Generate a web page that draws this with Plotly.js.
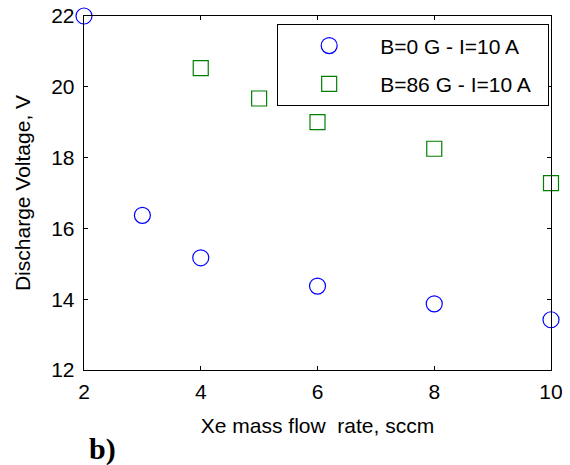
<!DOCTYPE html>
<html>
<head>
<meta charset="utf-8">
<script src="https://cdn.plot.ly/plotly-3.0.1.min.js"></script>
<style>html,body{margin:0;padding:0;background:#fff;}#chart{width:570px;height:465px;}</style>
</head>
<body>
<div id="chart"></div>
<script>
// Data
var flowB0 = [2, 3, 4, 6, 8, 10];
var voltB0 = [22.0, 16.37, 15.17, 14.37, 13.87, 13.42];
var flowB86 = [4, 5, 6, 8, 10];
var voltB86 = [20.53, 19.67, 19.0, 18.25, 17.28];
var nameB0 = 'B=0 G - I=10 A';
var nameB86 = 'B=86 G - I=10 A';
var xTicks = [2, 4, 6, 8, 10];
var yTicks = [12, 14, 16, 18, 20, 22];

var traces = [
  {x: flowB0, y: voltB0, name: nameB0, type: 'scatter', mode: 'markers', legendgroup: 'a',
   marker: {symbol: 'circle-open', size: 16, color: '#0000ff', line: {width: 1.2, color: '#0000ff'}},
   cliponaxis: false},
  {x: flowB86, y: voltB86, name: nameB86 + '\u00a0\u00a0', type: 'scatter', mode: 'markers', legendgroup: 'b',
   marker: {symbol: 'square-open', size: 15, color: '#008000', line: {width: 1.2, color: '#008000'}},
   cliponaxis: false}
];

var font = {family: 'Liberation Sans, Arial, sans-serif', size: 21, color: '#000'};
var axisCommon = {
  showgrid: false, zeroline: false, showline: true, linecolor: '#000', linewidth: 1.3,
  mirror: 'ticks', ticks: 'inside', ticklen: 4, tickwidth: 1.3, tickcolor: '#000',
  tickfont: font
};

var layout = {
  width: 570, height: 465,
  margin: {l: 84, r: 19, t: 16, b: 95},
  paper_bgcolor: '#fff', plot_bgcolor: '#fff',
  font: font,
  showlegend: true,
  legend: {
    x: 0.413, y: 0.977, xanchor: 'left', yanchor: 'top',
    bgcolor: '#fff', bordercolor: '#000', borderwidth: 1.3,
    font: font, itemwidth: 92, tracegroupgap: 8, traceorder: 'grouped'
  },
  xaxis: Object.assign({}, axisCommon, {
    range: [2, 10], tickvals: xTicks, ticktext: xTicks.map(String),
    ticklabelstandoff: 2,
    title: {text: 'Xe mass flow\u00a0 rate, sccm', font: font, standoff: 16}
  }),
  yaxis: Object.assign({}, axisCommon, {
    range: [12, 22], tickvals: yTicks, ticktext: yTicks.map(String),
    ticklabelstandoff: 4,
    title: {text: 'Discharge Voltage, V', font: font, standoff: 14}
  }),
  annotations: [{
    text: '<b>b)</b>', xref: 'paper', yref: 'paper', x: 0.006, y: -0.222,
    xanchor: 'left', yanchor: 'middle', showarrow: false,
    font: {family: 'Liberation Serif, Times New Roman, serif', size: 30, color: '#000'}
  }]
};

Plotly.newPlot('chart', traces, layout, {displayModeBar: false, staticPlot: true});
</script>
</body>
</html>
